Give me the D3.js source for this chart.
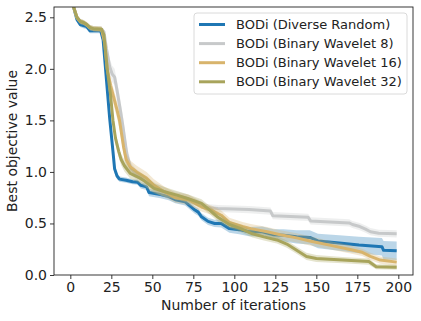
<!DOCTYPE html>
<html>
<head>
<meta charset="utf-8">
<script src="https://cdn.jsdelivr.net/npm/d3@7"></script>
<style>
  body { margin: 0; background: #fff; }
  svg text { font-family: "DejaVu Sans", sans-serif; fill: #222; }
</style>
</head>
<body>
<svg width="421" height="321"></svg>
<script>
// series data (mean and spread per iteration)
var names = ["BODi (Diverse Random)", "BODi (Binary Wavelet 8)", "BODi (Binary Wavelet 16)", "BODi (Binary Wavelet 32)"];
var colors = ["#1f77b4", "#c7c9ca", "#d8b46c", "#a8a45c"];

var blueIter = [0, 2, 4, 6, 8, 10, 12, 18.5, 20, 22, 24, 26, 27, 28.5, 30, 34, 38, 41, 43, 46.5, 48, 55, 60, 64, 70, 76, 78, 80, 84, 88, 92, 97, 103, 109, 117, 124, 130, 138, 146, 151, 164, 176, 190, 191, 199];
var blueMean = [2.72, 2.6, 2.48, 2.43, 2.42, 2.41, 2.37, 2.37, 2.28, 1.9, 1.52, 1.2, 1.03, 0.96, 0.93, 0.92, 0.905, 0.9, 0.87, 0.855, 0.8, 0.78, 0.76, 0.73, 0.71, 0.63, 0.61, 0.565, 0.52, 0.5, 0.5, 0.45, 0.44, 0.42, 0.42, 0.39, 0.385, 0.37, 0.365, 0.33, 0.31, 0.29, 0.275, 0.24, 0.235];
var blueSd = [0.025, 0.025, 0.025, 0.025, 0.025, 0.025, 0.025, 0.025, 0.03, 0.05, 0.05, 0.05, 0.04, 0.03, 0.025, 0.025, 0.025, 0.025, 0.03, 0.03, 0.035, 0.035, 0.035, 0.035, 0.035, 0.035, 0.035, 0.035, 0.035, 0.035, 0.04, 0.04, 0.045, 0.045, 0.05, 0.055, 0.06, 0.065, 0.07, 0.07, 0.075, 0.08, 0.085, 0.09, 0.09];

var grayIter = [0, 2, 4, 6, 8, 10, 12, 14, 19, 20.5, 22, 24, 25.5, 27, 28.5, 30.5, 32, 34.5, 37, 40, 45, 50, 55, 60, 70, 78, 83, 90, 109, 122, 123.5, 145, 146.5, 170, 172, 176.5, 180, 183, 188, 199];
var grayMean = [2.72, 2.6, 2.5, 2.46, 2.45, 2.43, 2.4, 2.39, 2.385, 2.36, 2.2, 2.02, 1.95, 1.92, 1.79, 1.6, 1.45, 1.17, 1.03, 0.98, 0.92, 0.86, 0.82, 0.79, 0.75, 0.7, 0.655, 0.645, 0.635, 0.62, 0.575, 0.56, 0.525, 0.505, 0.49, 0.47, 0.445, 0.42, 0.405, 0.4];
var graySd = [0.025, 0.025, 0.025, 0.025, 0.025, 0.025, 0.025, 0.025, 0.025, 0.03, 0.06, 0.08, 0.08, 0.08, 0.09, 0.1, 0.1, 0.08, 0.06, 0.05, 0.05, 0.05, 0.05, 0.04, 0.04, 0.035, 0.035, 0.035, 0.035, 0.035, 0.035, 0.035, 0.035, 0.035, 0.035, 0.035, 0.035, 0.035, 0.035, 0.035];

var yellowIter = [0, 2, 4, 6, 8, 10, 12, 14, 19, 21, 22.5, 24.5, 26.5, 28.5, 30, 32.5, 34, 36.5, 40.5, 46.5, 51, 57, 64, 72, 80, 86, 92, 97, 105, 110, 120, 128, 138, 146, 158, 170, 178, 183, 189, 199];
var yellowMean = [2.72, 2.6, 2.5, 2.46, 2.45, 2.43, 2.4, 2.39, 2.385, 2.25, 2.0, 1.84, 1.72, 1.6, 1.5, 1.24, 1.12, 1.05, 1.0, 0.94, 0.87, 0.81, 0.75, 0.73, 0.66, 0.63, 0.58, 0.51, 0.47, 0.45, 0.42, 0.39, 0.36, 0.33, 0.29, 0.25, 0.22, 0.18, 0.145, 0.125];
var yellowSd = [0.025, 0.025, 0.025, 0.025, 0.025, 0.025, 0.025, 0.025, 0.025, 0.04, 0.06, 0.07, 0.08, 0.08, 0.08, 0.07, 0.06, 0.06, 0.06, 0.06, 0.06, 0.05, 0.05, 0.05, 0.045, 0.045, 0.045, 0.045, 0.045, 0.045, 0.045, 0.045, 0.045, 0.045, 0.04, 0.04, 0.035, 0.035, 0.035, 0.035];

var oliveIter = [0, 2, 4, 6, 8, 10, 12, 14, 19, 20.5, 22.5, 24.5, 26, 27.5, 29.5, 31, 33, 36.5, 42.5, 44.5, 47, 51, 57, 65, 72, 80, 85, 90, 97, 104, 111, 118, 126, 132, 138, 144, 150, 166, 182, 186.5, 199];
var oliveMean = [2.72, 2.6, 2.5, 2.46, 2.45, 2.43, 2.4, 2.39, 2.385, 2.33, 2.0, 1.75, 1.5, 1.33, 1.2, 1.12, 1.06, 0.985, 0.94, 0.92, 0.89, 0.84, 0.81, 0.775, 0.74, 0.695, 0.63, 0.56, 0.49, 0.45, 0.4, 0.37, 0.34, 0.3, 0.24, 0.18, 0.16, 0.145, 0.13, 0.08, 0.075];
var oliveSd = [0.025, 0.025, 0.025, 0.025, 0.025, 0.025, 0.025, 0.025, 0.025, 0.03, 0.05, 0.06, 0.06, 0.06, 0.055, 0.055, 0.055, 0.05, 0.05, 0.05, 0.05, 0.05, 0.045, 0.04, 0.04, 0.04, 0.04, 0.04, 0.035, 0.035, 0.035, 0.035, 0.035, 0.035, 0.035, 0.035, 0.035, 0.03, 0.03, 0.025, 0.025];

var xTicks = [0, 25, 50, 75, 100, 125, 150, 175, 200];
var yTicks = [0.0, 0.5, 1.0, 1.5, 2.0, 2.5];

var svg = d3.select("svg"),
    margin = {top: 7, right: 8, bottom: 46, left: 54},
    width = svg.attr("width") - margin.left - margin.right,
    height = svg.attr("height") - margin.top - margin.bottom,
    g = svg.append("g").attr("transform", "translate(" + margin.left + "," + margin.top + ")");

var x = d3.scaleLinear().domain([-9.95, 208.95]).range([0, width]),
    y = d3.scaleLinear().domain([0, 2.6]).range([height, 0]);

// build series
var series = [
  {iter: blueIter, mean: blueMean, sd: blueSd},
  {iter: grayIter, mean: grayMean, sd: graySd},
  {iter: yellowIter, mean: yellowMean, sd: yellowSd},
  {iter: oliveIter, mean: oliveMean, sd: oliveSd}
].map(function(s, k) {
  return {
    name: names[k],
    color: colors[k],
    values: s.iter.map(function(it, i) {
      return {it: it, m: s.mean[i], sd: s.sd[i]};
    })
  };
});

g.append("clipPath").attr("id", "clip")
  .append("rect").attr("width", width).attr("height", height);

var line = d3.line()
    .x(function(d) { return x(d.it); })
    .y(function(d) { return y(d.m); });

var area = d3.area()
    .x(function(d) { return x(d.it); })
    .y0(function(d) { return y(d.m - d.sd); })
    .y1(function(d) { return y(d.m + d.sd); });

var plot = g.append("g").attr("clip-path", "url(#clip)");

series.forEach(function(s) {
  plot.append("path")
    .attr("d", area(s.values))
    .attr("fill", s.color)
    .attr("fill-opacity", 0.3);
  plot.append("path")
    .attr("d", line(s.values))
    .attr("fill", "none")
    .attr("stroke", s.color)
    .attr("stroke-width", 3)
    .attr("stroke-linejoin", "round");
});

// axes
var xAxis = g.append("g")
  .attr("transform", "translate(0," + height + ")")
  .call(d3.axisBottom(x).tickValues(xTicks).tickSize(4).tickPadding(3).tickFormat(d3.format("d")));
var yAxis = g.append("g")
  .call(d3.axisLeft(y).tickValues(yTicks).tickSize(4).tickPadding(3).tickFormat(d3.format(".1f")));

[xAxis, yAxis].forEach(function(a) {
  a.select(".domain").remove();
  a.selectAll("line").attr("stroke", "#222").attr("stroke-width", 0.9);
  a.selectAll("text").style("font-size", "14px").attr("fill", "#222");
});

// frame
g.append("rect")
  .attr("width", width).attr("height", height)
  .attr("fill", "none").attr("stroke", "#222").attr("stroke-width", 0.9);

// axis labels
g.append("text")
  .attr("x", width / 2).attr("y", height + 35)
  .attr("text-anchor", "middle")
  .style("font-size", "14px")
  .text("Number of iterations");

g.append("text")
  .attr("transform", "rotate(-90)")
  .attr("x", -height / 2).attr("y", -37)
  .attr("text-anchor", "middle")
  .style("font-size", "14px")
  .text("Best objective value");

// legend
var legend = svg.append("g").attr("transform", "translate(194,13)");
legend.append("rect")
  .attr("width", 213).attr("height", 81).attr("rx", 3)
  .attr("fill", "#fff").attr("fill-opacity", 0.8)
  .attr("stroke", "#d6d6d6").attr("stroke-width", 0.9);

var item = legend.selectAll(".item")
  .data(series)
  .enter().append("g")
  .attr("class", "item")
  .attr("transform", function(d, i) { return "translate(0," + (11.5 + i * 19.1) + ")"; });

item.append("line")
  .attr("x1", 5).attr("x2", 31)
  .attr("stroke", function(d) { return d.color; })
  .attr("stroke-width", 3);

item.append("text")
  .attr("x", 42).attr("dy", "0.35em")
  .style("font-size", "13px")
  .text(function(d) { return d.name; });
</script>
</body>
</html>
